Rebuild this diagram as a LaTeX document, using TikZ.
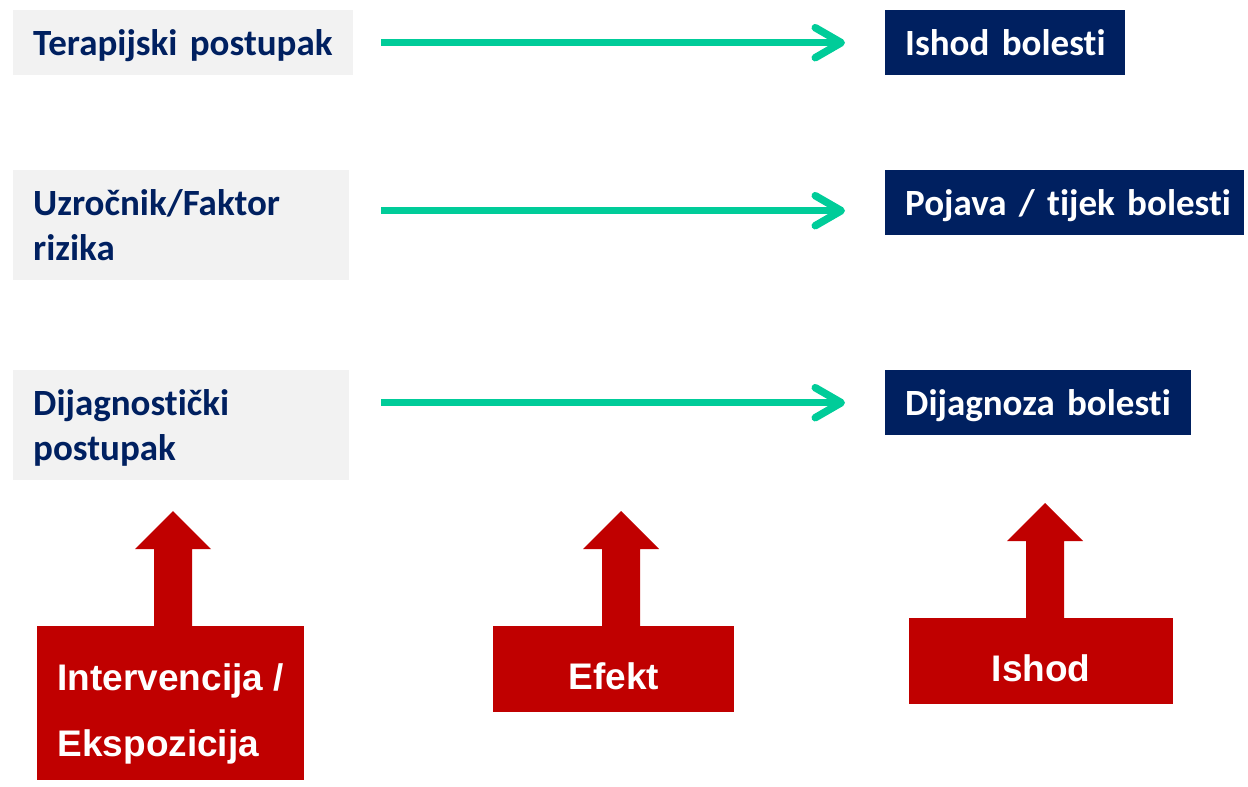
\documentclass[tikz,border=0pt]{standalone}
\usepackage{fontspec}
\setmainfont{Carlito}[Ligatures={NoCommon}]
\newfontfamily\arialfont{Liberation Sans}
\usetikzlibrary{arrows.meta,calc}
\definecolor{navy}{HTML}{002060}
\definecolor{lgray}{HTML}{F2F2F2}
\definecolor{redc}{HTML}{C00000}
\definecolor{greenc}{HTML}{00CC99}
\newcommand\calfont{\fontsize{37}{45}\selectfont\bfseries}
\tikzset{
  graybox/.style={fill=lgray, anchor=north west, inner xsep=0pt, inner ysep=0pt,
    align=left, text=navy, font=\calfont, execute at begin node={\leftskip=20pt\relax},
    minimum width=#1, text width=#1},
  navybox/.style={fill=navy, anchor=north west, inner xsep=0pt, inner ysep=0pt,
    align=left, text=white, font=\calfont, execute at begin node={\leftskip=20pt\relax},
    minimum height=65pt, text height=25pt, text depth=0pt, minimum width=#1, text width=#1},
  redbox/.style={fill=redc, anchor=north west, inner xsep=20pt, inner ysep=0pt,
    text=white, font=\arialfont\fontsize{37}{66}\selectfont\bfseries},
  garrow/.style={draw=greenc, line width=7.5pt,
    -{Straight Barb[round,length=26pt,width=30pt]}},
  redarrow/.style={fill=redc}
}
\begin{document}
\begin{tikzpicture}[x=1pt,y=-1pt]
\useasboundingbox (0,0) rectangle (1248,787);
% left gray boxes
\node[graybox=340pt, minimum height=65pt, text height=25pt, text depth=0pt] (t1) at (13,10) {Terapijski postupak};
\node[graybox=336pt, minimum height=110pt, text height=25pt, text depth=45pt] (t2) at (13,170) {Uzročnik/Faktor\\rizika};
\node[graybox=336pt, minimum height=110pt, text height=25pt, text depth=45pt] (t3) at (13,370) {Dijagnostički\\postupak};
% right navy boxes
\node[navybox=240pt] (o1) at (885,10) {Ishod bolesti};
\node[navybox=359pt] (o2) at (885,170) {Pojava / tijek bolesti};
\node[navybox=306pt] (o3) at (885,370) {Dijagnoza bolesti};
% green arrows
\draw[garrow] ($(t1.east |- o1.west)+(28,0)$) -- ($(o1.west)+(-40,0)$);
\draw[garrow] ($(t2.east |- o2.west)+(32,8)$) -- ($(o2.west)+(-40,8)$);
\draw[garrow] ($(t3.east |- o3.west)+(32,0)$) -- ($(o3.west)+(-40,0)$);
% red boxes
\node[redbox, align=left, minimum width=267pt, minimum height=154pt,
  text height=106pt, text depth=0pt] (r1) at (37,626) {Intervencija /\\Ekspozicija};
\node[redbox, align=center, minimum width=241pt, minimum height=86pt,
  text height=41pt, text depth=0pt] (r2) at (493,626) {Efekt};
\node[redbox, align=center, minimum width=264pt, minimum height=86pt,
  text height=41pt, text depth=0pt] (r3) at (909,618) {Ishod};
% red block arrows
\coordinate (u1) at (173,511);
\coordinate (u2) at (621,511);
\coordinate (u3) at (1045,503);
\foreach \t/\b in {u1/r1,u2/r2,u3/r3}{
  \fill[redarrow] (\t) -- ($(\t)+(38,38)$) -- ($(\t)+(19,38)$)
    -- ($(\t |- \b.north)+(19,0.5)$) -- ($(\t |- \b.north)+(-19,0.5)$)
    -- ($(\t)+(-19,38)$) -- ($(\t)+(-38,38)$) -- cycle;
}
\end{tikzpicture}
\end{document}
